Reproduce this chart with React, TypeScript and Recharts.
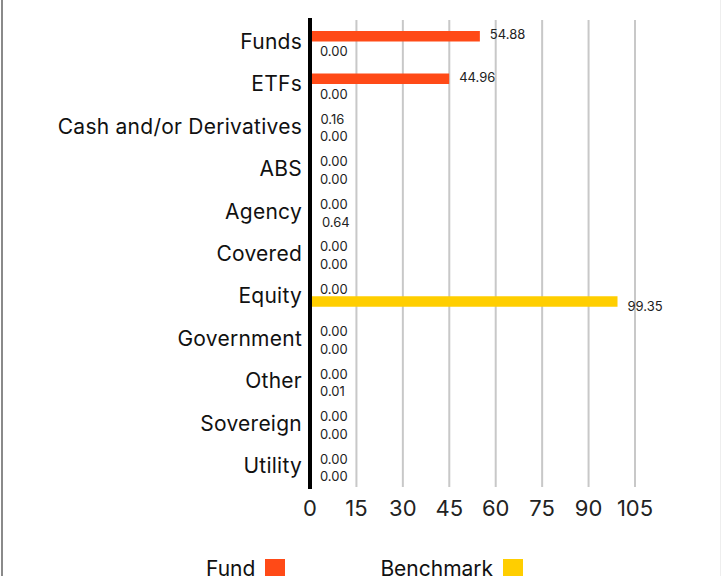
import { BarChart, Bar, XAxis, YAxis, CartesianGrid, LabelList } from "recharts";

const categories = [
  "Funds",
  "ETFs",
  "Cash and/or Derivatives",
  "ABS",
  "Agency",
  "Covered",
  "Equity",
  "Government",
  "Other",
  "Sovereign",
  "Utility",
];
const fundValues = [54.88, 44.96, 0.16, 0, 0, 0, 0, 0, 0, 0, 0];
const benchmarkValues = [0, 0, 0, 0, 0.64, 0, 99.35, 0, 0.01, 0, 0];
const xTicks = [0, 15, 30, 45, 60, 75, 90, 105];

const FUND_COLOR = "#ff4a17";
const BENCH_COLOR = "#ffce00";
const FONT = "Inter, 'Open Sans', sans-serif";
const BAR_SIZE = 10.5;
const FUND_DY = -2;
const BENCH_DY = 5;

const data = categories.map((name, i) => ({
  name,
  fund: fundValues[i],
  benchmark: benchmarkValues[i],
}));

const valueText = (x: number, y: number, v: number, key?: string) => (
  <text
    key={key}
    x={x}
    y={y}
    dominantBaseline="central"
    fontSize={13}
    fontFamily={FONT}
    fill="#222"
  >
    {v.toFixed(2)}
  </text>
);

// value label to the right of the bar end, nudged up/down per series
const makeLabel = (dy: number) => (props: any) => {
  const { x, y, width, height, value } = props;
  if (!value) return null;
  return valueText(
    Number(x) + Number(width) + 10,
    Number(y) + Number(height) / 2 + dy,
    Number(value)
  );
};

// category tick; also carries the "0.00" labels, since zero bars get no label
const CategoryTick = (props: any) => {
  const { x, y, payload, index } = props;
  const axisX = Number(x) + 8;
  const cy = Number(y);
  const f = fundValues[index];
  const b = benchmarkValues[index];
  return (
    <g>
      <text
        x={x}
        y={cy}
        textAnchor="end"
        dominantBaseline="central"
        fontSize={21}
        letterSpacing={0.25}
        fontFamily={FONT}
        fill="#111"
      >
        {payload.value}
      </text>
      {f === 0 && valueText(axisX + 10, cy - BAR_SIZE / 2 + FUND_DY, 0, "f")}
      {b === 0 && valueText(axisX + 10, cy + BAR_SIZE / 2 + BENCH_DY, 0, "b")}
    </g>
  );
};

export default function App() {
  return (
    <div
      style={{
        position: "fixed",
        left: 0,
        top: 0,
        width: 722,
        height: 576,
        background: "#fff",
        overflow: "hidden",
        fontFamily: FONT,
      }}
    >
      <div
        style={{
          position: "absolute",
          left: 1,
          top: 0,
          width: 2,
          height: 576,
          background: "#8a8a8a",
        }}
      />
      <div
        style={{
          position: "absolute",
          left: 720,
          top: 0,
          width: 1,
          height: 576,
          background: "#eeeeee",
        }}
      />
      <BarChart
        width={722}
        height={576}
        data={data}
        layout="vertical"
        margin={{ top: 20, right: 87, left: 0, bottom: 49 }}
        barGap={0}
        barSize={BAR_SIZE}
      >
        <CartesianGrid
          horizontal={false}
          vertical
          stroke="#c8c8c8"
          strokeWidth={2}
        />
        <XAxis
          type="number"
          domain={[0, 105]}
          ticks={xTicks}
          axisLine={false}
          tickLine={false}
          height={40}
          tick={{ fontSize: 22, fill: "#222", fontFamily: FONT }}
          tickMargin={7}
        />
        <YAxis
          type="category"
          dataKey="name"
          width={310}
          axisLine={{ stroke: "#000", strokeWidth: 4, strokeLinecap: "square" }}
          tickLine={false}
          tick={<CategoryTick />}
        />
        <Bar dataKey="fund" fill={FUND_COLOR} isAnimationActive={false}>
          <LabelList dataKey="fund" content={makeLabel(FUND_DY)} />
        </Bar>
        <Bar dataKey="benchmark" fill={BENCH_COLOR} isAnimationActive={false}>
          <LabelList dataKey="benchmark" content={makeLabel(BENCH_DY)} />
        </Bar>
      </BarChart>
      <div
        style={{
          position: "absolute",
          top: 559,
          left: 206,
          display: "flex",
          alignItems: "flex-start",
          fontSize: 21,
          lineHeight: "20px",
          color: "#111",
        }}
      >
        <span>Fund</span>
        <span
          style={{
            display: "inline-block",
            width: 20,
            height: 20,
            marginLeft: 10,
            background: FUND_COLOR,
          }}
        />
        <span style={{ marginLeft: 95 }}>Benchmark</span>
        <span
          style={{
            display: "inline-block",
            width: 20,
            height: 20,
            marginLeft: 10,
            background: BENCH_COLOR,
          }}
        />
      </div>
    </div>
  );
}
